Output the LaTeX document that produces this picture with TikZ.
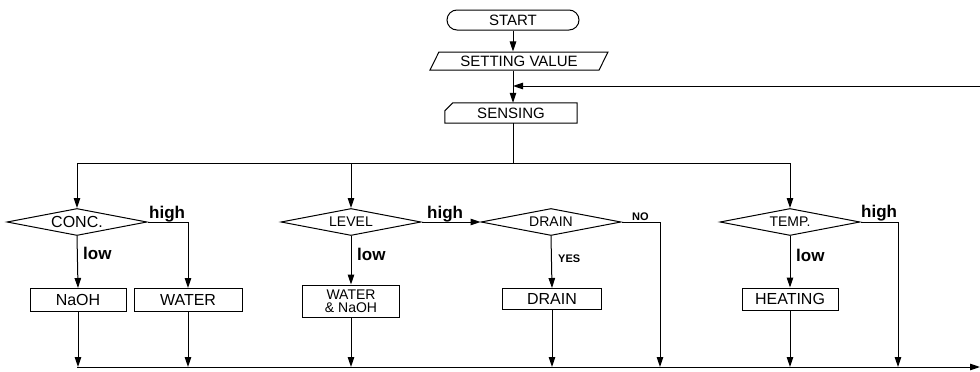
\documentclass[tikz,border=0pt]{standalone}
\usepackage{fontspec}
\setmainfont{Liberation Sans}
\usetikzlibrary{shapes, arrows.meta, positioning, calc}
\tikzset{
  >=Stealth,
  flowarrow/.style={-{Triangle[length=10pt, width=6.5pt]}, line width=1pt},
  flowline/.style={line width=1pt},
  terminal/.style={rectangle, draw, line width=1pt, rounded corners=10pt, minimum width=132pt, minimum height=20pt, inner sep=0pt, font=\fontsize{15}{16}\selectfont},
  inputbox/.style={trapezium, trapezium left angle=50, trapezium right angle=130, trapezium stretches body, draw, line width=1pt, minimum width=178pt, minimum height=18pt, inner sep=0pt, font=\fontsize{15}{16}\selectfont},
  sensebox/.style={rectangle, minimum width=132pt, minimum height=20pt, inner sep=0pt, font=\fontsize{15}{16}\selectfont},
  procbox/.style={rectangle, draw, line width=1pt, minimum height=23pt, inner sep=1pt, font=\fontsize{16}{17}\selectfont},
  decision/.style={diamond, draw, line width=1pt, aspect=5.2, minimum width=140pt, minimum height=27pt, inner sep=0pt, font=\fontsize{14}{15}\selectfont},
  branchlabel/.style={font=\fontsize{17}{18}\selectfont\bfseries, inner sep=0pt, anchor=base west},
  smalllabel/.style={font=\fontsize{11}{12}\selectfont\bfseries, inner sep=0pt, anchor=base west}
}

\begin{document}
\begin{tikzpicture}[x=1pt, y=-1pt]
    \useasboundingbox (0,0) rectangle (980,372);

    % Top of the chart
    \node[terminal] (start) at (513,20) {START};
    \node[inputbox] (setval) at (519,61) {SETTING VALUE};
    \node[sensebox] (sense) at (511,113) {SENSING};
    \draw[flowline] ($(sense.north west)+(0,8)$) -- ($(sense.north west)+(8,0)$) -- (sense.north east) -- (sense.south east) -- (sense.south west) -- cycle;

    \draw[flowarrow] (start.south) -- (start.south |- setval.north);
    \draw[flowarrow] (start.south |- setval.south) -- (start.south |- sense.north);

    % Feedback from the right
    \coordinate (fbin) at (980,86);
    \coordinate (fbjoin) at (513,86);
    \draw[flowarrow] (fbin) -- (fbjoin);

    % Decisions
    \node[decision, font=\fontsize{16}{17}\selectfont] (conc) at (77,222) {CONC.};
    \node[decision] (level) at (351,222) {LEVEL};
    \node[decision] (drain) at (551,222) {DRAIN};
    \node[decision] (temp) at (790,222) {TEMP.};

    % Split line
    \coordinate (split) at (513,163);
    \draw[flowline] (start.south |- sense.south) -- (split);
    \draw[flowline] (conc |- split) -- (temp |- split);
    \foreach \d in {conc, level, temp}
        \draw[flowarrow] (\d |- split) -- (\d.north);

    % Actions
    \node[procbox, minimum width=96pt] (naoh) at (78,300) {NaOH};
    \node[procbox, minimum width=108pt] (water) at (188,300) {WATER};
    \node[procbox, minimum width=97pt, minimum height=32pt, align=center, font=\fontsize{14}{13}\selectfont] (waternaoh) at (351,301) {WATER\\\& NaOH};
    \node[procbox, minimum width=99pt, minimum height=21pt] (drainbox) at (552,299) {DRAIN};
    \node[procbox, minimum width=96pt, minimum height=22pt] (heat) at (790,299) {HEATING};

    % Bottom line
    \coordinate (sumL) at (77,367);
    \coordinate (sumR) at (980,367);
    \coordinate (nobr) at (660,367);
    \coordinate (highbr) at (898,367);
    \draw[flowarrow] (sumL) -- (sumR);

    % Branches
    \draw[flowarrow] (conc.south) -- (naoh.north);
    \draw[flowarrow] (conc.east) -| (water.north);
    \draw[flowarrow] (level.south) -- (waternaoh.north);
    \draw[flowarrow] (level.east) -- (drain.west);
    \draw[flowarrow] (drain.south) -- (drainbox.north);
    \draw[flowarrow] (drain.east) -| (nobr);
    \draw[flowarrow] (temp.south) -- (heat.north);
    \draw[flowarrow] (temp.east) -| (highbr);
    \foreach \b in {naoh, water, waternaoh, drainbox, heat}
        \draw[flowarrow] (\b.south) -- (\b |- sumL);

    % Labels
    \node[branchlabel] (conchigh) at (149,218) {high};
    \node[branchlabel] (conclow) at (83,259) {low};
    \node[branchlabel] (levelhigh) at (427,218) {high};
    \node[branchlabel] (levellow) at (357,260) {low};
    \node[smalllabel] (drainno) at (632,220) {NO};
    \node[smalllabel] (drainyes) at (558,262) {YES};
    \node[branchlabel] (temphigh) at (861,217) {high};
    \node[branchlabel] (templow) at (796,261) {low};
\end{tikzpicture}
\end{document}
